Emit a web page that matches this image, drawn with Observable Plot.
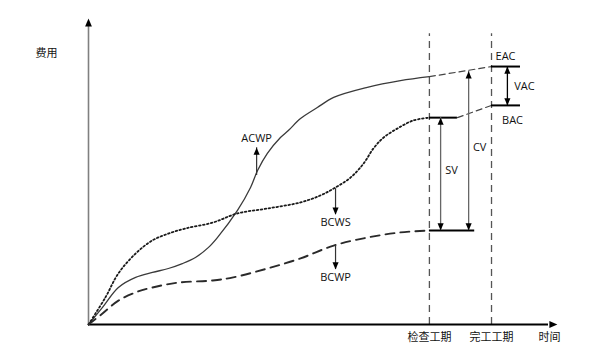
<!DOCTYPE html>
<html>
<head>
<meta charset="utf-8">
<script src="https://cdn.jsdelivr.net/npm/d3@7"></script>
<script src="https://cdn.jsdelivr.net/npm/@observablehq/plot@0.6"></script>
<style>
  body { margin: 0; background: #fff; }
</style>
</head>
<body>
<div id="chart"></div>
<script>
// Earned value S-curves: time (0–100) against cumulative cost (0–100)
const acwpTime = [0, 3.0, 6.4, 10.1, 13.7, 17.1, 20.1, 22.9, 25.7, 27.6, 31.9, 34.7, 36.2, 38.3, 41.1, 42.8, 45.4, 49.0, 52.5, 59.7, 66.8, 73.0];
const acwpCost = [0, 5.6, 12.1, 15.4, 17.0, 18.3, 19.9, 21.9, 25.2, 28.4, 37.3, 44.8, 50.3, 55.9, 61.1, 63.4, 67.3, 70.9, 74.2, 77.5, 79.7, 81.0];

const bcwsTime = [0, 3.6, 6.4, 10.1, 13.7, 17.1, 20.8, 26.6, 31.9, 38.3, 45.4, 49.7, 52.9, 56.1, 58.9, 61.0, 63.2, 66.2, 69.6, 73.0];
const bcwsCost = [0, 8.8, 16.7, 23.2, 27.5, 29.7, 31.4, 33.3, 36.3, 37.9, 39.9, 42.2, 44.8, 48.0, 52.6, 57.5, 61.1, 64.1, 66.7, 67.6];

const bcwpTime = [0, 3.0, 6.4, 10.1, 13.7, 19.3, 26.6, 31.0, 38.3, 45.4, 52.5, 59.7, 66.8, 73.0];
const bcwpCost = [0, 3.6, 7.8, 10.5, 12.1, 13.7, 14.4, 15.4, 18.3, 21.6, 25.8, 28.4, 30.1, 30.7];

// Key dates and values
const checkTime = 73.0;    // 检查工期
const finishTime = 86.3;   // 完工工期
const eac = 84.3;
const bac = 71.6;
const acwpNow = acwpCost[acwpCost.length - 1];
const bcwsNow = bcwsCost[bcwsCost.length - 1];
const bcwpNow = bcwpCost[bcwpCost.length - 1];

// Time axis labels
const timeTicks = [checkTime, finishTime, 98.7];
const timeLabels = ["检查工期", "完工工期", "时间"];

// Curve name pointers: name, time, from cost, to cost
const pointerNames = ["ACWP", "BCWS", "BCWP"];
const pointerTime = [36.0, 52.9, 52.9];
const pointerFrom = [48.7, 44.4, 25.8];
const pointerTo = [57.8, 35.9, 18.0];

const toRows = (t, c) => t.map((x, i) => ({t: x, c: c[i]}));
const acwp = toRows(acwpTime, acwpCost);
const bcws = toRows(bcwsTime, bcwsCost);
const bcwp = toRows(bcwpTime, bcwpCost);

// Straight-line forecasts from the status date to completion
const bcwsEnd = 79.0;
const acwpForecast = [{t: checkTime, c: acwpNow}, {t: finishTime, c: eac}];
const bcwsForecast = [{t: bcwsEnd, c: bcwsNow}, {t: finishTime, c: bac}];
const forecastAt = (t) => acwpNow + (eac - acwpNow) * (t - checkTime) / (finishTime - checkTime);

const svTime = 75.4, cvTime = 81.4, vacTime = 89.7, barEnd = 92.5, bcwpBarEnd = 82.7;
const variance = [
  {name: "SV", t: svTime, lo: bcwpNow, hi: bcwsNow},
  {name: "CV", t: cvTime, lo: bcwpNow, hi: forecastAt(cvTime) - 0.3},
  {name: "VAC", t: vacTime, lo: bac, hi: eac}
];
const pointers = pointerNames.map((name, i) => ({name, t: pointerTime[i], from: pointerFrom[i], to: pointerTo[i]}));

// Filled arrow heads with the tip at the anchor point
const headUp = {draw(ctx, size) { const r = Math.sqrt(size / Math.PI); ctx.moveTo(0, 0); ctx.lineTo(r * 0.85, r * 2); ctx.lineTo(-r * 0.85, r * 2); ctx.closePath(); }};
const headDown = {draw(ctx, size) { const r = Math.sqrt(size / Math.PI); ctx.moveTo(0, 0); ctx.lineTo(r * 0.85, -r * 2); ctx.lineTo(-r * 0.85, -r * 2); ctx.closePath(); }};
const headRight = {draw(ctx, size) { const r = Math.sqrt(size / Math.PI); ctx.moveTo(0, 0); ctx.lineTo(-r * 2, r * 0.85); ctx.lineTo(-r * 2, -r * 0.85); ctx.closePath(); }};

const font = "'Open Sans', 'Noto Sans CJK SC', sans-serif";

const chart = Plot.plot({
  width: 613,
  height: 358,
  marginLeft: 88,
  marginRight: 58,
  marginTop: 18,
  marginBottom: 34,
  style: {fontFamily: font, fontSize: "11px", color: "#111", background: "#fff"},
  x: {domain: [0, 100], axis: null},
  y: {domain: [0, 100], axis: null},
  marks: [
    // status date and completion date
    Plot.ruleX([checkTime, finishTime], {y1: 0, y2: 95, stroke: "#555", strokeWidth: 1.3, strokeDasharray: "7,5"}),

    // cost axis (vertical) and time axis
    Plot.ruleX([0], {y1: 0, y2: 97.5, stroke: "#808080", strokeWidth: 1.6}),
    Plot.dot([{t: 0, c: 100}], {x: "t", y: "c", symbol: headUp, r: 4, fill: "#000", stroke: null}),
    Plot.ruleY([0], {x1: 0, x2: 98.5, stroke: "#000", strokeWidth: 2.2}),
    Plot.dot([{t: 100.4, c: 0}], {x: "t", y: "c", symbol: headRight, r: 4, fill: "#000", stroke: null}),

    // curves
    Plot.line(acwp, {x: "t", y: "c", curve: "catmull-rom", stroke: "#3a3a3a", strokeWidth: 1.3}),
    Plot.line(bcws, {x: "t", y: "c", curve: "catmull-rom", stroke: "#1a1a1a", strokeWidth: 1.8, strokeDasharray: "1.6,2.4"}),
    Plot.line(bcwp, {x: "t", y: "c", curve: "catmull-rom", stroke: "#2a2a2a", strokeWidth: 1.9, strokeDasharray: "9,6"}),

    // forecasts
    Plot.line(acwpForecast, {x: "t", y: "c", stroke: "#444", strokeWidth: 1.2, strokeDasharray: "6,4"}),
    Plot.line(bcwsForecast, {x: "t", y: "c", stroke: "#444", strokeWidth: 1.2, strokeDasharray: "6,4"}),

    // level bars
    Plot.ruleY([bcwsNow], {x1: checkTime, x2: bcwsEnd, stroke: "#000", strokeWidth: 2}),
    Plot.ruleY([bcwpNow], {x1: checkTime, x2: bcwpBarEnd, stroke: "#000", strokeWidth: 2}),
    Plot.ruleY([eac, bac], {x1: finishTime, x2: barEnd, stroke: "#000", strokeWidth: 2}),

    // variance arrows (SV, CV, VAC)
    Plot.ruleX(variance, {x: "t", y1: "lo", y2: "hi", stroke: (d) => d.name === "VAC" ? "#000" : "#666", strokeWidth: 1.3}),
    Plot.dot(variance, {x: "t", y: "hi", symbol: headUp, r: 3.6, fill: "#000", stroke: null}),
    Plot.dot(variance, {x: "t", y: "lo", symbol: headDown, r: 3.6, fill: "#000", stroke: null}),
    Plot.text(variance.filter((d) => d.name !== "VAC"), {x: "t", y: (d) => (d.lo + d.hi) / 2 + 1.1, text: "name", dx: 11, fontSize: 11}),
    Plot.text(variance.filter((d) => d.name === "VAC"), {x: "t", y: (d) => (d.lo + d.hi) / 2, text: "name", dx: 17, fontSize: 11}),

    // EAC / BAC labels
    Plot.text([{name: "EAC", c: eac}], {x: finishTime, y: "c", text: "name", dx: 14, dy: -10, fontSize: 11}),
    Plot.text([{name: "BAC", c: bac}], {x: finishTime, y: "c", text: "name", dx: 21, dy: 15, fontSize: 11}),

    // curve name pointers
    Plot.ruleX(pointers, {x: "t", y1: "from", y2: "to", stroke: "#333", strokeWidth: 1.2}),
    Plot.dot(pointers.filter((d) => d.to > d.from), {x: "t", y: "to", symbol: headUp, r: 3.6, fill: "#000", stroke: null}),
    Plot.dot(pointers.filter((d) => d.to < d.from), {x: "t", y: "to", symbol: headDown, r: 3.6, fill: "#000", stroke: null}),
    Plot.text(pointers.filter((d) => d.to > d.from), {x: "t", y: "to", text: "name", dy: -6, lineAnchor: "bottom", fontSize: 11}),
    Plot.text(pointers.filter((d) => d.to < d.from), {x: "t", y: "to", text: "name", dy: 4, lineAnchor: "top", fontSize: 11}),

    // axis titles
    Plot.text(["费用"], {x: -9, y: 88.6, text: (d) => d, fontSize: 11}),
    Plot.axisX({ticks: timeTicks, tickFormat: (d) => timeLabels[timeTicks.indexOf(d)], tickSize: 0, tickPadding: 9, label: null, fontSize: 11})
  ]
});

document.getElementById("chart").appendChild(chart);
</script>
</body>
</html>
